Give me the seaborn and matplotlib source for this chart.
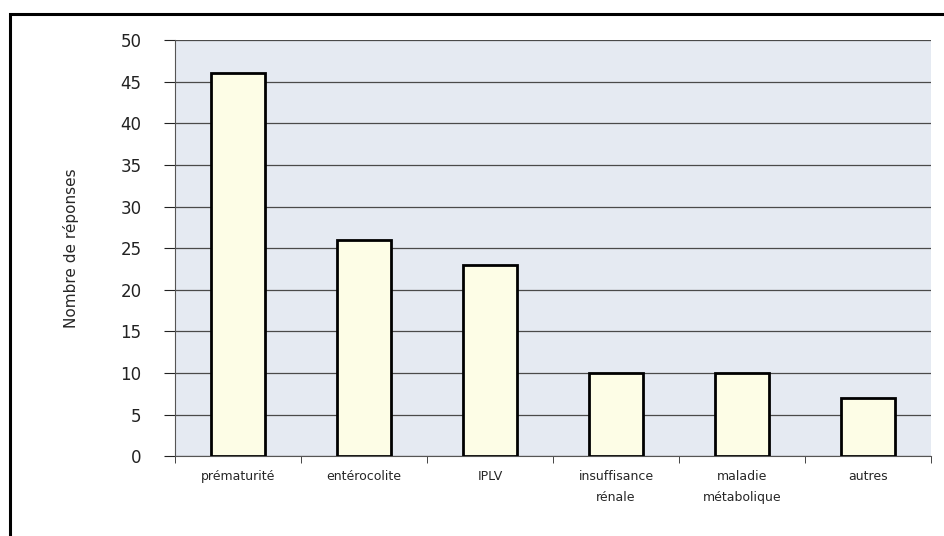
import numpy as np
import pandas as pd
import matplotlib.pyplot as plt
import seaborn as sns
from matplotlib.patches import Rectangle

categories = ['prématurité', 'entérocolite', 'IPLV', 'insuffisance\nrénale',
              'maladie\nmétabolique', 'autres']
reponses = [46, 26, 23, 10, 10, 7]

df = pd.DataFrame({'cause': categories, 'n': reponses})

sns.set_style('white')
fig = plt.figure(figsize=(9.44, 5.36), dpi=100)
ax = fig.add_axes([0.1854, 0.149, 0.801, 0.776])

sns.barplot(data=df, x='cause', y='n', color='#fdfde6', edgecolor='black',
            linewidth=2, width=0.43, saturation=1, ax=ax, zorder=3)

ax.set_facecolor('#e5eaf2')
ax.set_ylim(0, 50)
ax.set_xlim(-0.5, 5.5)
ax.set_yticks(range(0, 51, 5))
ax.yaxis.grid(True, color='#4a4a4a', linewidth=0.9, zorder=0)
ax.set_axisbelow(True)
for s in ['top', 'right']:
    ax.spines[s].set_visible(False)
ax.spines['left'].set_color('#555555')
ax.spines['bottom'].set_color('#555555')
ax.tick_params(axis='y', length=8, direction='out', left=True, labelsize=12, pad=16, colors='#222222')
ax.set_xticks(np.arange(-0.5, 6, 1), minor=True)
ax.tick_params(axis='x', which='major', length=0, labelsize=9, pad=10)
ax.tick_params(axis='x', which='minor', length=5, direction='out', bottom=True)
for lab in ax.get_xticklabels():
    lab.set_linespacing(1.8)
ax.set_xlabel('')
ax.set_ylabel('Nombre de réponses', fontsize=11, labelpad=30)

fig.patches.append(Rectangle((10 / 944, -0.1), 1.0, 1.1 - 14 / 536, transform=fig.transFigure,
                             fill=False, edgecolor='black', linewidth=2.2))

fig.savefig('out.png', dpi=100)
